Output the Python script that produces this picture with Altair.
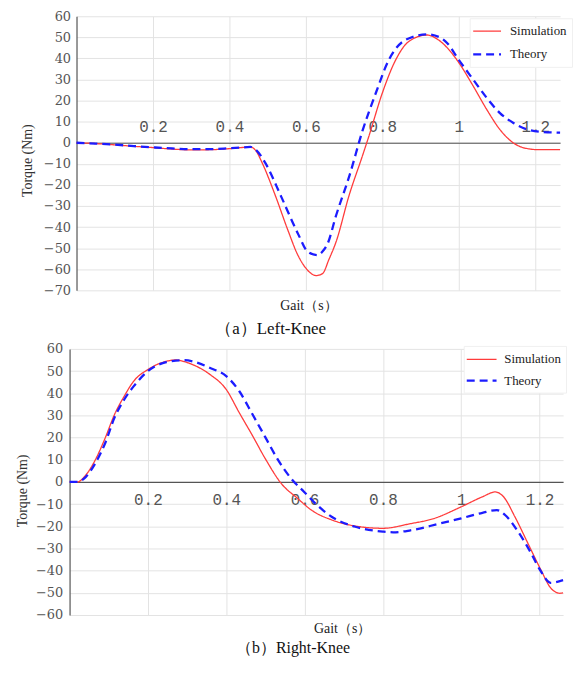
import altair as alt
import pandas as pd

SERIES = ["Simulation", "Theory"]
COLORS = ["#ff3b3b", "#1c1cff"]
DASHES = [[1, 0], [8, 5]]
WIDTHS = [1.3, 2.3]

X_TICKS = [0.2, 0.4, 0.6, 0.8, 1.0, 1.2]
LK_Y_TICKS = [-70, -60, -50, -40, -30, -20, -10, 0, 10, 20, 30, 40, 50, 60]
RK_Y_TICKS = [-60, -50, -40, -30, -20, -10, 0, 10, 20, 30, 40, 50, 60]

# (a) Left-Knee
lk_sim_t = [0, 0.05, 0.10, 0.15, 0.20, 0.25, 0.30, 0.35, 0.40, 0.43, 0.455, 0.47,
            0.485, 0.52, 0.553, 0.579, 0.60, 0.627, 0.644, 0.66, 0.679, 0.713, 0.748,
            0.765, 0.80, 0.835, 0.869, 0.917, 0.945, 0.97, 1.0, 1.038, 1.073, 1.107,
            1.142, 1.177, 1.21, 1.265]
lk_sim_v = [0, -0.4, -1.0, -1.7, -2.3, -3.0, -3.4, -3.3, -2.8, -2.3, -2.0, -4.0,
            -9.3, -25.0, -41.5, -53.3, -59.5, -63.0, -62.0, -55.5, -47.0, -25.0, -6.2,
            3.2, 23.6, 39.3, 48.0, 51.1, 49.0, 45.0, 38.0, 26.8, 15.8, 6.4,
            0.0, -2.7, -3.3, -3.3]
lk_th_t = [0, 0.05, 0.10, 0.15, 0.20, 0.25, 0.30, 0.35, 0.40, 0.43, 0.455, 0.47,
           0.493, 0.536, 0.579, 0.605, 0.63, 0.644, 0.657, 0.679, 0.714, 0.748, 0.783,
           0.817, 0.861, 0.917, 0.95, 0.97, 1.0, 1.038, 1.073, 1.107, 1.142, 1.177,
           1.22, 1.265]
lk_th_v = [0, -0.4, -0.9, -1.6, -2.2, -2.7, -3.0, -3.0, -2.6, -2.3, -2.0, -3.5,
           -9.3, -25.8, -43.0, -51.7, -53.3, -51.5, -47.8, -34.5, -15.6, 5.6, 23.6,
           39.3, 48.8, 51.4, 50.0, 47.2, 39.3, 29.9, 21.3, 14.2, 9.5, 6.4,
           5.1, 4.8]

# (b) Right-Knee
rk_sim_t = [0, 0.02, 0.041, 0.065, 0.09, 0.115, 0.14, 0.164, 0.20, 0.247, 0.27, 0.31,
            0.359, 0.40, 0.433, 0.467, 0.50, 0.541, 0.582, 0.62, 0.669, 0.727, 0.80,
            0.868, 0.93, 1.0, 1.054, 1.087, 1.108, 1.137, 1.17, 1.203, 1.228, 1.252, 1.26]
rk_sim_v = [0, 0, 3.0, 9.7, 19.4, 30.5, 38.8, 45.5, 50.7, 54.4, 55.0, 53.2,
            48.4, 41.7, 31.3, 20.9, 10.4, -0.8, -7.4, -13.0, -17.1, -19.8, -20.9,
            -18.9, -16.5, -11.2, -6.7, -4.5, -6.7, -15.7, -27.6, -39.5, -47.7, -50.2, -50.0]
rk_th_t = [0, 0.02, 0.041, 0.065, 0.09, 0.115, 0.14, 0.164, 0.20, 0.247, 0.293, 0.322,
           0.359, 0.40, 0.433, 0.467, 0.50, 0.533, 0.566, 0.599, 0.632, 0.669, 0.727,
           0.80, 0.826, 0.868, 0.942, 1.0, 1.054, 1.091, 1.112, 1.145, 1.178, 1.203,
           1.228, 1.26]
rk_th_v = [0, 0, 2.2, 8.2, 17.1, 29.1, 37.3, 43.2, 50.0, 54.0, 54.9, 54.0,
           51.4, 47.7, 41.0, 30.5, 20.1, 9.7, 1.5, -4.5, -10.4, -15.7, -20.1,
           -22.4, -22.7, -21.9, -18.9, -16.4, -13.9, -12.7, -14.9, -22.4, -32.0, -40.2,
           -45.5, -44.3]


def make_df(st, sv, tt, tv):
    return pd.DataFrame({
        "t": st + tt,
        "torque": sv + tv,
        "series": [SERIES[0]] * len(st) + [SERIES[1]] * len(tt),
    })


def panel(df, xmax, ydom, yticks, w, h, x_orient, caption, cap_dx, cap_off, cap_size,
          yt_x, yt_y, xt_x, xt_y, ylab_pad, xlab_pad, leg_x, leg_y, sym_size,
          lab_off, row_pad):
    ymin, ymax = ydom
    if x_orient == "top":
        axis_off = -h * ymax / (ymax - ymin)
    else:
        axis_off = -h * (0 - ymin) / (ymax - ymin)
    x_axis = alt.Axis(
        orient=x_orient, offset=axis_off, values=X_TICKS, format=".1~f",
        grid=True, gridColor="#e3e3e3", gridWidth=1,
        domainColor="#555555", domainWidth=1.2,
        ticks=False, tickSize=0,
        labelFont="Liberation Mono", labelFontSize=16, labelColor="#555555",
        labelPadding=xlab_pad, labelFlush=False,
        title="Gait（s）", titleFont="Liberation Serif", titleFontSize=14,
        titleFontWeight="normal", titleColor="#222222",
        titleX=xt_x, titleY=xt_y, titleBaseline="middle", titleAlign="center",
    )
    y_axis = alt.Axis(
        values=yticks, grid=True, gridColor="#e3e3e3", gridWidth=1,
        domainColor="#555555", domainWidth=1.2,
        ticks=False, tickSize=0,
        labelFont="DejaVu Serif", labelFontSize=13, labelColor="#555555",
        labelPadding=ylab_pad, labelFlush=False,
        title="Torque (Nm)", titleFont="Liberation Serif", titleFontSize=14,
        titleFontWeight="normal", titleColor="#333333",
        titleX=yt_x, titleY=yt_y, titleAngle=270, titleBaseline="middle",
        titleAlign="center",
    )
    leg = alt.Legend(
        title=None, orient="none", legendX=leg_x, legendY=leg_y, direction="vertical",
        symbolType="M-2,0L2,0", symbolSize=sym_size,
        labelFont="Liberation Serif", labelFontSize=13, labelColor="#222222",
        labelOffset=lab_off, padding=5, symbolOffset=4, rowPadding=row_pad,
        fillColor="white", strokeColor="#f0f0f0",
    )
    return alt.Chart(df).mark_line(interpolate="monotone").encode(
        x=alt.X("t:Q", scale=alt.Scale(domain=[0, xmax], nice=False, zero=False), axis=x_axis),
        y=alt.Y("torque:Q", scale=alt.Scale(domain=[ymin, ymax], nice=False), axis=y_axis),
        color=alt.Color("series:N", scale=alt.Scale(domain=SERIES, range=COLORS), legend=leg),
        strokeDash=alt.StrokeDash("series:N", scale=alt.Scale(domain=SERIES, range=DASHES), legend=leg),
        strokeWidth=alt.StrokeWidth("series:N", scale=alt.Scale(domain=SERIES, range=WIDTHS), legend=leg),
    ).properties(
        width=w, height=h,
        title=alt.TitleParams(caption, orient="bottom", font="Liberation Serif", fontSize=cap_size,
                              fontWeight="normal", color="#111111", dx=cap_dx, offset=cap_off),
    )


top = panel(make_df(lk_sim_t, lk_sim_v, lk_th_t, lk_th_v), 1.265, (-70, 60), LK_Y_TICKS,
            487, 276, "top", "（a）Left-Knee", -48, 9, 17,
            -49.5, 145, 233.6, 163.6, 6, 8, 396, 2, 196, 14.5, 8)
bottom = panel(make_df(rk_sim_t, rk_sim_v, rk_th_t, rk_th_v), 1.26, (-60, 60), RK_Y_TICKS,
               497, 268, "bottom", "（b）Right-Knee", -23.5, 5, 16,
               -47.8, 142.5, 274.5, 147.5, 7, 10, 397, -3, 225, 13.8, 5)


def spacer(w):
    return alt.Chart(pd.DataFrame({"v": [0.0]})).mark_point(opacity=0).encode(
        x=alt.X("v:Q", axis=None), y=alt.Y("v:Q", axis=None)
    ).properties(width=w, height=10)


indep = dict(color="independent", strokeDash="independent", strokeWidth="independent")
top_row = alt.hconcat(spacer(8.5), top, spacing=0).resolve_scale(**indep)
bottom_row = alt.hconcat(spacer(1), bottom, spacing=0).resolve_scale(**indep)

chart = alt.vconcat(top_row, bottom_row, spacing=6).resolve_scale(**indep).properties(
    padding={"left": 0, "right": 0, "top": 0, "bottom": 0}
).configure_view(stroke=None)

chart.save("out.html", embed_options={"renderer": "svg", "actions": False})
